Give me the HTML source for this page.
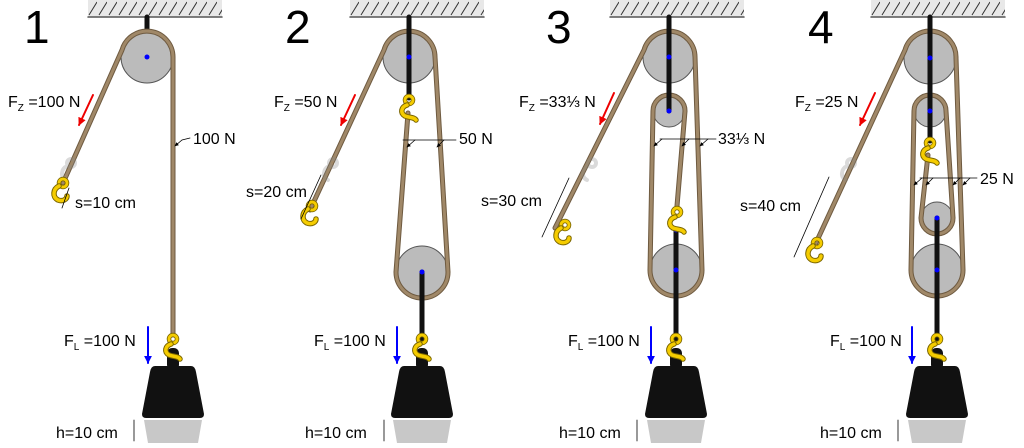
<!DOCTYPE html>
<html><head><meta charset="utf-8"><style>
html,body{margin:0;padding:0;background:#fff;width:1024px;height:448px;overflow:hidden}
svg{display:block}
text{font-family:"Liberation Sans",sans-serif;fill:#000}
</style></head><body>
<svg width="1024" height="448" viewBox="0 0 1024 448" xmlns="http://www.w3.org/2000/svg">
<defs>
<pattern id="hat" width="10" height="17" patternUnits="userSpaceOnUse">
<rect width="10" height="17" fill="#e8e8e8"/>
<line x1="2" y1="15" x2="10" y2="2" stroke="#333" stroke-width="1"/>
</pattern>
<g id="ceil"><rect x="-59" y="0" width="134" height="17" fill="url(#hat)"/><line x1="-59" y1="17" x2="75" y2="17" stroke="#555" stroke-width="1.5"/></g>
<g id="weight">
<rect x="-6" y="348" width="12" height="22" rx="5" fill="#111"/>
<path d="M-18,366 L18,366 Q22,366 23,372 L31,414 Q31,418 27,418 L-27,418 Q-31,418 -31,414 L-23,372 Q-22,366 -18,366Z" fill="#111"/>
<path d="M-29,420 L29,420 L25,443 L-25,443Z" fill="#c8c8c8"/>
</g>
<g id="hook" fill="none" stroke-linecap="round">
<circle cx="0" cy="0" r="4" stroke="#7a6500" stroke-width="4.5"/>
<circle cx="0" cy="0" r="4" stroke="#f5cc00" stroke-width="2.8"/>
<path d="M-2,5 C-8,7 -9,13 -4,16 C1,18 5,17 7,20" stroke="#7a6500" stroke-width="5.5"/>
<path d="M-2,5 C-8,7 -9,13 -4,16 C1,18 5,17 7,20" stroke="#f5cc00" stroke-width="3.5"/>
</g>
<g id="hookL" fill="none" stroke-linecap="round">
<circle cx="0" cy="0" r="4" stroke="#7a6500" stroke-width="4.5"/>
<circle cx="0" cy="0" r="4" stroke="#f5cc00" stroke-width="2.8"/>
<path d="M-4,3 C-10,6 -11,14 -5,17 C0,19 4,16 4,13" stroke="#7a6500" stroke-width="5.5"/>
<path d="M-4,3 C-10,6 -11,14 -5,17 C0,19 4,16 4,13" stroke="#f5cc00" stroke-width="3.5"/>
</g>
<g id="ghost" opacity="0.3" fill="none" stroke="#888" stroke-width="4"><circle cx="0" cy="0" r="4"/><path d="M-4,3 C-10,6 -11,14 -5,17"/></g>
<marker id="ar" viewBox="0 0 10 10" refX="9" refY="5" markerWidth="5" markerHeight="5" orient="auto"><path d="M0,0L10,5L0,10z" fill="#000"/></marker>
<marker id="red" viewBox="0 0 10 10" refX="9" refY="5" markerWidth="4" markerHeight="4" orient="auto"><path d="M0,0L10,5L0,10z" fill="#e00"/></marker>
<marker id="blu" viewBox="0 0 10 10" refX="9" refY="5" markerWidth="4" markerHeight="4" orient="auto"><path d="M0,0L10,5L0,10z" fill="#00f"/></marker>
</defs>
<g fill="none" stroke-linecap="round">

<!-- PANEL 1 -->
<use href="#ceil" x="147"/>
<line x1="147" y1="17" x2="147" y2="57" stroke="#111" stroke-width="5"/>
<circle cx="147" cy="57" r="26" fill="#bbb" stroke="#555"/>
<path d="M63,183 L122,50 A26,26 0 0 1 173,57 L173,335" stroke="#6e5a40" stroke-width="5"/>
<path d="M63,183 L122,50 A26,26 0 0 1 173,57 L173,335" stroke="#a08868" stroke-width="3"/>
<circle cx="147" cy="57" r="2.5" fill="#00f" stroke="none"/>
<use href="#ghost" x="71" y="163"/>
<use href="#hookL" x="63" y="183"/>
<line x1="69" y1="188" x2="62" y2="208" stroke="#000" stroke-width="0.8"/>
<use href="#weight" x="173"/>
<use href="#hook" x="173" y="339"/>
<line x1="93" y1="95" x2="79" y2="125" stroke="#e00" stroke-width="2" marker-end="url(#red)"/>
<line x1="148" y1="327" x2="148" y2="363" stroke="#00f" stroke-width="2" marker-end="url(#blu)"/>
<path d="M190,138 L182,140 L175,146" stroke="#000" stroke-width="0.8" marker-end="url(#ar)"/>
<line x1="134" y1="420" x2="134" y2="441" stroke="#000" stroke-width="0.8"/>

<!-- PANEL 2 -->
<use href="#ceil" x="409"/>
<circle cx="409" cy="57" r="26" fill="#bbb" stroke="#555"/>
<circle cx="422" cy="272" r="26" fill="#bbb" stroke="#555"/>
<path d="M310,210 L384,50 A26,26 0 0 1 435,57 L448,272 A26,26 0 0 1 396,272 L408,113" stroke="#6e5a40" stroke-width="5"/>
<path d="M310,210 L384,50 A26,26 0 0 1 435,57 L448,272 A26,26 0 0 1 396,272 L408,113" stroke="#a08868" stroke-width="3"/>
<line x1="409" y1="17" x2="409" y2="98" stroke="#111" stroke-width="5"/>
<line x1="422" y1="272" x2="422" y2="340" stroke="#111" stroke-width="5"/>
<circle cx="409" cy="57" r="2.5" fill="#00f" stroke="none"/>
<circle cx="422" cy="272" r="2.5" fill="#00f" stroke="none"/>
<use href="#hook" x="409" y="100"/>
<use href="#ghost" x="333" y="163"/>
<use href="#hookL" x="312" y="206"/>
<line x1="321" y1="175" x2="301" y2="219" stroke="#000" stroke-width="0.8"/>
<use href="#weight" x="422"/>
<use href="#hook" x="422" y="339"/>
<line x1="355" y1="95" x2="341" y2="125" stroke="#e00" stroke-width="2" marker-end="url(#red)"/>
<line x1="397" y1="327" x2="397" y2="363" stroke="#00f" stroke-width="2" marker-end="url(#blu)"/>
<line x1="456" y1="140" x2="403" y2="140" stroke="#000" stroke-width="0.8"/>
<line x1="415" y1="140" x2="407" y2="147" stroke="#000" stroke-width="0.8" marker-end="url(#ar)"/>
<line x1="444" y1="140" x2="437" y2="147" stroke="#000" stroke-width="0.8" marker-end="url(#ar)"/>
<line x1="384" y1="420" x2="384" y2="441" stroke="#000" stroke-width="0.8"/>

<!-- PANEL 3 -->
<use href="#ceil" x="669"/>
<circle cx="669" cy="57" r="26" fill="#bbb" stroke="#555"/>
<circle cx="669" cy="111" r="16" fill="#bbb" stroke="#555"/>
<circle cx="676" cy="270" r="26" fill="#bbb" stroke="#555"/>
<path d="M555,228 L644,50 A26,26 0 0 1 695,57 L702,270 A26,26 0 0 1 650,270 L653,111 A16,16 0 0 1 685,111 L677,206" stroke="#6e5a40" stroke-width="5"/>
<path d="M555,228 L644,50 A26,26 0 0 1 695,57 L702,270 A26,26 0 0 1 650,270 L653,111 A16,16 0 0 1 685,111 L677,206" stroke="#a08868" stroke-width="3"/>
<line x1="669" y1="17" x2="669" y2="111" stroke="#111" stroke-width="5"/>
<line x1="676" y1="230" x2="676" y2="340" stroke="#111" stroke-width="5"/>
<circle cx="669" cy="57" r="2.5" fill="#00f" stroke="none"/>
<circle cx="669" cy="111" r="2.5" fill="#00f" stroke="none"/>
<circle cx="676" cy="230" r="2.5" fill="#00f" stroke="none"/>
<circle cx="676" cy="270" r="2.5" fill="#00f" stroke="none"/>
<use href="#hook" x="677" y="212"/>
<use href="#ghost" x="592" y="163"/>
<use href="#hookL" x="565" y="225"/>
<line x1="569" y1="178" x2="542" y2="237" stroke="#000" stroke-width="0.8"/>
<use href="#weight" x="676"/>
<use href="#hook" x="676" y="339"/>
<line x1="614" y1="93" x2="600" y2="124" stroke="#e00" stroke-width="2" marker-end="url(#red)"/>
<line x1="651" y1="327" x2="651" y2="363" stroke="#00f" stroke-width="2" marker-end="url(#blu)"/>
<line x1="716" y1="139" x2="660" y2="139" stroke="#000" stroke-width="0.8"/>
<line x1="662" y1="139" x2="654" y2="146" stroke="#000" stroke-width="0.8" marker-end="url(#ar)"/>
<line x1="689" y1="139" x2="682" y2="146" stroke="#000" stroke-width="0.8" marker-end="url(#ar)"/>
<line x1="708" y1="139" x2="700" y2="146" stroke="#000" stroke-width="0.8" marker-end="url(#ar)"/>
<line x1="637" y1="420" x2="637" y2="441" stroke="#000" stroke-width="0.8"/>

<!-- PANEL 4 -->
<use href="#ceil" x="930"/>
<circle cx="930" cy="58" r="26" fill="#bbb" stroke="#555"/>
<circle cx="930" cy="111" r="16" fill="#bbb" stroke="#555"/>
<circle cx="937" cy="218" r="16" fill="#bbb" stroke="#555"/>
<circle cx="937" cy="270" r="26" fill="#bbb" stroke="#555"/>
<path d="M815,245 L905,50 A26,26 0 0 1 956,58 L963,270 A26,26 0 0 1 911,270 L914,111 A16,16 0 0 1 946,111 L953,218 A16,16 0 0 1 921,218 L928,155" stroke="#6e5a40" stroke-width="5"/>
<path d="M815,245 L905,50 A26,26 0 0 1 956,58 L963,270 A26,26 0 0 1 911,270 L914,111 A16,16 0 0 1 946,111 L953,218 A16,16 0 0 1 921,218 L928,155" stroke="#a08868" stroke-width="3"/>
<line x1="930" y1="17" x2="930" y2="141" stroke="#111" stroke-width="5"/>
<line x1="937" y1="218" x2="937" y2="340" stroke="#111" stroke-width="5"/>
<circle cx="930" cy="58" r="2.5" fill="#00f" stroke="none"/>
<circle cx="930" cy="111" r="2.5" fill="#00f" stroke="none"/>
<circle cx="937" cy="218" r="2.5" fill="#00f" stroke="none"/>
<circle cx="937" cy="270" r="2.5" fill="#00f" stroke="none"/>
<use href="#hook" x="930" y="143"/>
<use href="#ghost" x="851" y="163"/>
<use href="#hookL" x="817" y="243"/>
<line x1="829" y1="177" x2="794" y2="257" stroke="#000" stroke-width="0.8"/>
<use href="#weight" x="937"/>
<use href="#hook" x="937" y="339"/>
<line x1="875" y1="93" x2="860" y2="125" stroke="#e00" stroke-width="2" marker-end="url(#red)"/>
<line x1="912" y1="327" x2="912" y2="363" stroke="#00f" stroke-width="2" marker-end="url(#blu)"/>
<line x1="977" y1="178" x2="920" y2="178" stroke="#000" stroke-width="0.8"/>
<line x1="922" y1="178" x2="914" y2="185" stroke="#000" stroke-width="0.8" marker-end="url(#ar)"/>
<line x1="933" y1="178" x2="926" y2="185" stroke="#000" stroke-width="0.8" marker-end="url(#ar)"/>
<line x1="960" y1="178" x2="953" y2="185" stroke="#000" stroke-width="0.8" marker-end="url(#ar)"/>
<line x1="970" y1="178" x2="963" y2="185" stroke="#000" stroke-width="0.8" marker-end="url(#ar)"/>
<line x1="898" y1="420" x2="898" y2="441" stroke="#000" stroke-width="0.8"/>
</g>

<!-- labels -->
<g font-size="16">
<text x="24" y="43" font-size="46">1</text>
<text x="285" y="43" font-size="46">2</text>
<text x="546" y="43" font-size="46">3</text>
<text x="808" y="43" font-size="46">4</text>

<text x="8" y="107">F<tspan font-size="10" dy="4">Z</tspan><tspan dy="-4"> =100 N</tspan></text>
<text x="193" y="144">100 N</text>
<text x="75" y="208">s=10 cm</text>
<text x="64" y="346">F<tspan font-size="10" dy="4">L</tspan><tspan dy="-4"> =100 N</tspan></text>
<text x="56" y="438">h=10 cm</text>

<text x="274" y="107">F<tspan font-size="10" dy="4">Z</tspan><tspan dy="-4"> =50 N</tspan></text>
<text x="459" y="144">50 N</text>
<text x="246" y="197">s=20 cm</text>
<text x="314" y="346">F<tspan font-size="10" dy="4">L</tspan><tspan dy="-4"> =100 N</tspan></text>
<text x="305" y="438">h=10 cm</text>

<text x="519" y="107">F<tspan font-size="10" dy="4">Z</tspan><tspan dy="-4"> =33⅓ N</tspan></text>
<text x="718" y="144">33⅓ N</text>
<text x="481" y="206">s=30 cm</text>
<text x="568" y="346">F<tspan font-size="10" dy="4">L</tspan><tspan dy="-4"> =100 N</tspan></text>
<text x="559" y="438">h=10 cm</text>

<text x="795" y="107">F<tspan font-size="10" dy="4">Z</tspan><tspan dy="-4"> =25 N</tspan></text>
<text x="980" y="184">25 N</text>
<text x="740" y="211">s=40 cm</text>
<text x="830" y="346">F<tspan font-size="10" dy="4">L</tspan><tspan dy="-4"> =100 N</tspan></text>
<text x="820" y="438">h=10 cm</text>
</g>
</svg>
</body></html>
